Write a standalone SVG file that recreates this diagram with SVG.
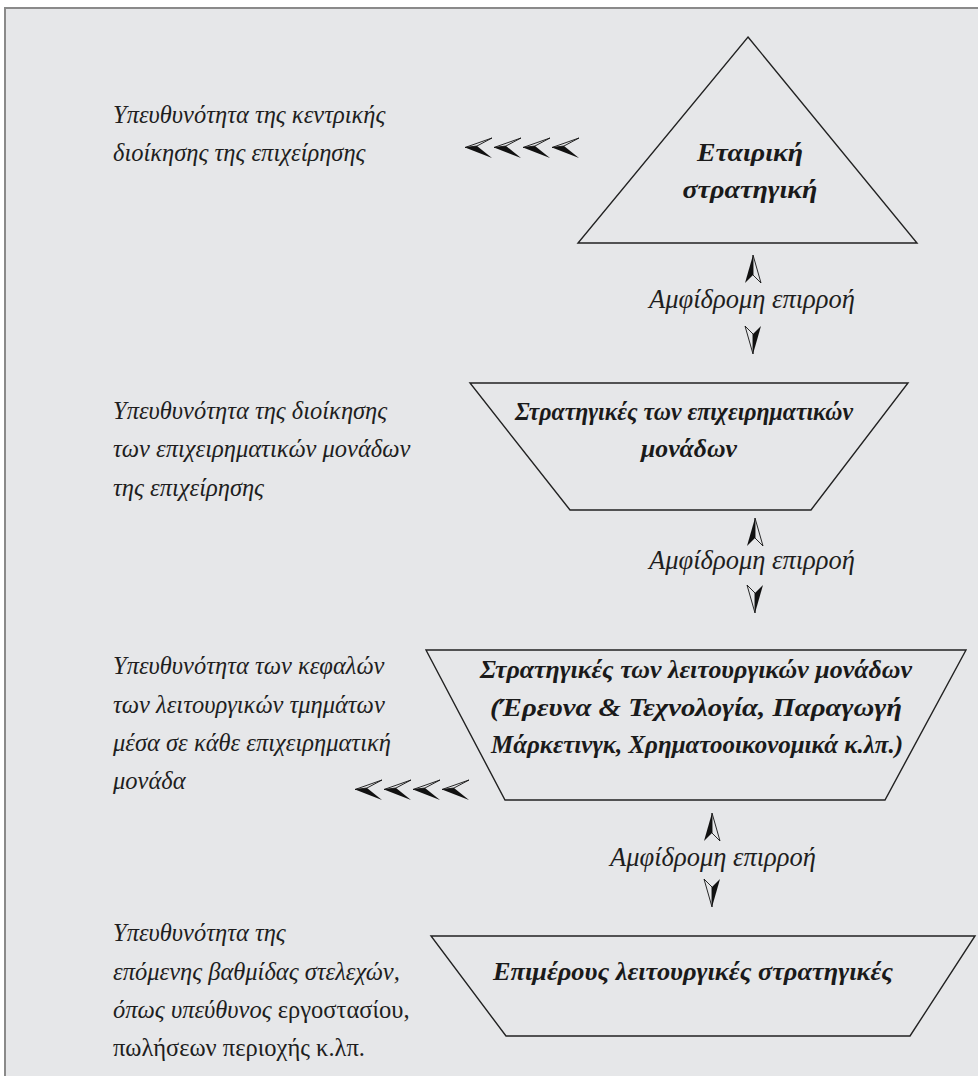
<svg xmlns="http://www.w3.org/2000/svg" width="978" height="1076" viewBox="0 0 978 1076">
<defs>
<style>
.lbl{font-family:"Liberation Serif","DejaVu Serif",serif;font-style:italic;font-size:24.5px;fill:#1e1e1e}
.up{font-style:normal}
.node{font-family:"Liberation Serif","DejaVu Serif",serif;font-style:italic;font-weight:bold;font-size:26px;fill:#1a1a1a;text-anchor:middle}
.mid{font-family:"Liberation Serif","DejaVu Serif",serif;font-style:italic;font-size:26.5px;fill:#1e1e1e;text-anchor:middle}
.shape{fill:none;stroke:#222;stroke-width:1.4}
.ah{fill:#111}
.ahl{fill:none;stroke:#111;stroke-width:0.9;stroke-linejoin:miter}
</style>
<g id="chev">
<path class="ah" d="M0,9.5 L12,8 L27,20 Z"/>
<path class="ahl" d="M0,9.5 L27,0 L12,8 Z"/>
</g>
<g id="upA">
<path class="ah" d="M8,0 L0,28 L8,20 Z"/>
<path class="ahl" d="M8,0 L16,28 L8,20 Z"/>
</g>
<g id="dnA">
<path class="ahl" d="M8,28 L0,0 L8,8 Z"/>
<path class="ah" d="M8,28 L8,8 L16,0 Z"/>
</g>
</defs>
<rect width="978" height="1076" fill="#ffffff"/>
<rect x="5" y="8" width="990" height="1090" fill="#e6e7e9" stroke="#8a8a8a" stroke-width="2"/>

<g id="labels">
<text class="lbl" x="113" y="123">Υπευθυνότητα της κεντρικής</text>
<text class="lbl" x="113" y="161">διοίκησης της επιχείρησης</text>
<text class="lbl" x="113" y="419">Υπευθυνότητα της διοίκησης</text>
<text class="lbl" x="113" y="457">των επιχειρηματικών μονάδων</text>
<text class="lbl" x="113" y="496">της επιχείρησης</text>
<text class="lbl" x="113" y="674">Υπευθυνότητα των κεφαλών</text>
<text class="lbl" x="113" y="713">των λειτουργικών τμημάτων</text>
<text class="lbl" x="113" y="751">μέσα σε κάθε επιχειρηματική</text>
<text class="lbl" x="113" y="789">μονάδα</text>
<text class="lbl" x="113" y="941">Υπευθυνότητα της</text>
<text class="lbl" x="113" y="980">επόμενης βαθμίδας στελεχών,</text>
<text class="lbl" x="113" y="1018">όπως υπεύθυνος <tspan class="up">εργοστασίου,</tspan></text>
<text class="lbl up" x="113" y="1056">πωλήσεων περιοχής κ.λπ.</text>
</g>

<g id="node-corporate">
<polygon class="shape" points="748,37 917,243 578,243"/>
<text class="node" x="750" y="161" textLength="106" lengthAdjust="spacingAndGlyphs">Εταιρική</text>
<text class="node" x="750" y="198" textLength="135" lengthAdjust="spacingAndGlyphs">στρατηγική</text>
</g>

<g id="node-business">
<polygon class="shape" points="470,383 908,383 811,510 570,510"/>
<text class="node" x="684" y="420" textLength="338" lengthAdjust="spacingAndGlyphs">Στρατηγικές των επιχειρηματικών</text>
<text class="node" x="689" y="457" textLength="96" lengthAdjust="spacingAndGlyphs">μονάδων</text>
</g>

<g id="node-functional">
<polygon class="shape" points="426,650 966,650 885,800 505,800"/>
<text class="node" x="696" y="678" textLength="432" lengthAdjust="spacingAndGlyphs">Στρατηγικές των λειτουργικών μονάδων</text>
<text class="node" x="696" y="716" textLength="412" lengthAdjust="spacingAndGlyphs">(Έρευνα &amp; Τεχνολογία, Παραγωγή</text>
<text class="node" x="697" y="753" textLength="412" lengthAdjust="spacingAndGlyphs">Μάρκετινγκ, Χρηματοοικονομικά κ.λπ.)</text>
</g>

<g id="node-sub">
<polygon class="shape" points="431,936 975,936 910,1036 506,1036"/>
<text class="node" x="693" y="980" textLength="400" lengthAdjust="spacingAndGlyphs">Επιμέρους λειτουργικές στρατηγικές</text>
</g>

<g id="connectors">
<use href="#chev" x="465" y="138"/>
<use href="#chev" x="494" y="138"/>
<use href="#chev" x="523" y="138"/>
<use href="#chev" x="552" y="138"/>
<use href="#chev" x="355" y="780"/>
<use href="#chev" x="384" y="780"/>
<use href="#chev" x="413" y="780"/>
<use href="#chev" x="442" y="780"/>
<use href="#upA" x="745" y="255"/>
<text class="mid" x="752" y="308">Αμφίδρομη επιρροή</text>
<use href="#dnA" x="745" y="326"/>
<use href="#upA" x="747" y="518"/>
<text class="mid" x="752" y="569">Αμφίδρομη επιρροή</text>
<use href="#dnA" x="747" y="585"/>
<use href="#upA" x="704" y="813"/>
<text class="mid" x="713" y="866">Αμφίδρομη επιρροή</text>
<use href="#dnA" x="704" y="879"/>
</g>
</svg>
